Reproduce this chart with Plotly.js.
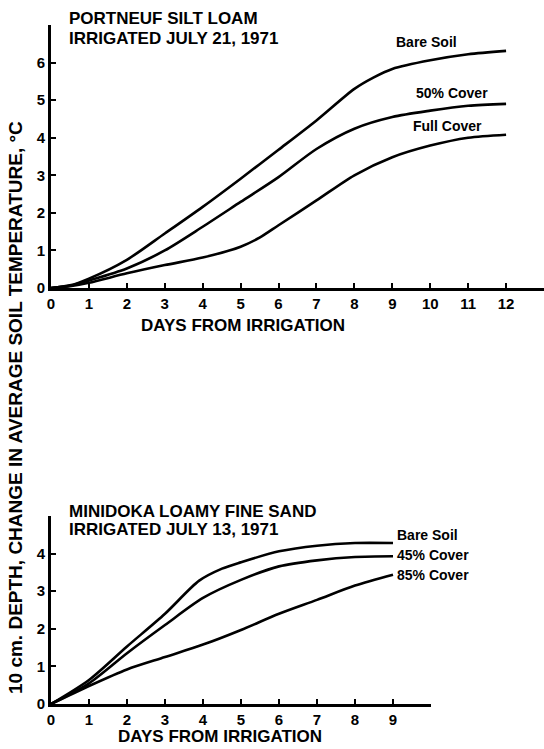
<!DOCTYPE html>
<html><head><meta charset="utf-8">
<script src="https://cdn.plot.ly/plotly-3.0.1.min.js"></script>
<style>html,body{margin:0;padding:0;background:#fff}</style>
</head><body><div id="chart" style="width:544px;height:749px"></div>
<script>
// ---- Top panel: Portneuf silt loam, irrigated July 21, 1971 ----
const topBareDays  = [0, 0.5, 1, 2, 3, 4, 5, 6, 7, 8, 8.5, 9, 10, 11, 12];
const topBareTemp  = [0, 0.07, 0.25, 0.75, 1.45, 2.16, 2.91, 3.68, 4.46, 5.3, 5.6, 5.83, 6.06, 6.22, 6.31];
const topHalfDays  = [0, 0.5, 1, 2, 3, 4, 5, 6, 7, 8, 9, 10, 11, 12];
const topHalfTemp  = [0, 0.06, 0.2, 0.52, 1.0, 1.63, 2.29, 2.95, 3.7, 4.24, 4.55, 4.72, 4.85, 4.9];
const topFullDays  = [0, 0.5, 1, 2, 3, 4, 5, 5.5, 6, 7, 8, 9, 10, 11, 12];
const topFullTemp  = [0, 0.05, 0.14, 0.39, 0.61, 0.81, 1.1, 1.34, 1.67, 2.33, 3.0, 3.48, 3.79, 4.0, 4.08];
const topXTicks = [0,1,2,3,4,5,6,7,8,9,10,11,12];
const topYTicks = [0,1,2,3,4,5,6];
const topLabels = ["Bare Soil", "50% Cover", "Full Cover"];

// ---- Bottom panel: Minidoka loamy fine sand, irrigated July 13, 1971 ----
const botBareDays = [0, 1, 2, 3, 3.9, 4.5, 5, 6, 7, 8, 9];
const botBareTemp = [0, 0.64, 1.53, 2.4, 3.28, 3.6, 3.77, 4.06, 4.21, 4.28, 4.28];
const bot45Days   = [0, 1, 2, 3, 4, 5, 6, 7, 8, 9];
const bot45Temp   = [0, 0.55, 1.35, 2.1, 2.82, 3.3, 3.66, 3.82, 3.91, 3.93];
const bot85Days   = [0, 1, 2, 3, 4, 5, 6, 7, 8, 9];
const bot85Temp   = [0, 0.48, 0.92, 1.25, 1.58, 1.97, 2.4, 2.77, 3.15, 3.44];
const botXTicks = [0,1,2,3,4,5,6,7,8,9];
const botYTicks = [0,1,2,3,4];
const botLabels = ["Bare Soil", "45% Cover", "85% Cover"];

const topTitle = ["PORTNEUF SILT LOAM", "IRRIGATED JULY 21, 1971"];
const botTitle = ["MINIDOKA LOAMY FINE SAND", "IRRIGATED JULY 13, 1971"];
const xTitle = "DAYS FROM IRRIGATION";
const yTitle = "10 cm. DEPTH, CHANGE IN AVERAGE SOIL TEMPERATURE, °C";

const FONT = "Liberation Sans, Arial, sans-serif";
const W = 544, H = 749;
const px = v => v / W;
const py = v => (H - v) / H;

function line(x, y, xa, ya) {
  return {x, y, xaxis: xa, yaxis: ya, type: 'scatter', mode: 'lines',
    line: {color: '#000', width: 2.6, shape: 'spline', smoothing: 0.8},
    hoverinfo: 'skip', showlegend: false};
}

const traces = [
  line(topBareDays, topBareTemp, 'x', 'y'),
  line(topHalfDays, topHalfTemp, 'x', 'y'),
  line(topFullDays, topFullTemp, 'x', 'y'),
  line(botBareDays, botBareTemp, 'x2', 'y2'),
  line(bot45Days, bot45Temp, 'x2', 'y2'),
  line(bot85Days, bot85Temp, 'x2', 'y2')
];

const axBase = {
  showgrid: false, zeroline: false, showline: true, linecolor: '#000', linewidth: 3,
  ticks: 'inside', ticklen: 5, tickwidth: 2, tickcolor: '#000',
  tickfont: {family: FONT, size: 15, color: '#000', weight: 'bold'},
  automargin: false, fixedrange: true
};

function ann(text, x, y, xref, yref, opts) {
  return Object.assign({text, x, y, xref, yref, showarrow: false,
    font: {family: FONT, size: 14, color: '#000', weight: 'bold'}}, opts || {});
}

const titleFont = {family: FONT, size: 17, color: '#000', weight: 'bold'};
const yTitleFont = {family: FONT, size: 19, color: '#000', weight: 'bold'};
const annotations = [
  ann(topTitle[0], px(67), py(19), 'paper', 'paper', {xanchor: 'left', yanchor: 'middle', font: titleFont}),
  ann(topTitle[1], px(67), py(38.5), 'paper', 'paper', {xanchor: 'left', yanchor: 'middle', font: titleFont}),
  ann(botTitle[0], px(67), py(511.5), 'paper', 'paper', {xanchor: 'left', yanchor: 'middle', font: titleFont}),
  ann(botTitle[1], px(67), py(529.5), 'paper', 'paper', {xanchor: 'left', yanchor: 'middle', font: titleFont}),
  ann(xTitle, px(243), py(325), 'paper', 'paper', {xanchor: 'center', yanchor: 'middle', font: titleFont}),
  ann(xTitle, px(220), py(748), 'paper', 'paper', {xanchor: 'center', yanchor: 'bottom', font: titleFont}),
  ann(yTitle, px(15), py(408), 'paper', 'paper', {xanchor: 'center', yanchor: 'middle', textangle: -90, font: yTitleFont}),
  ann(topLabels[0], 9.9, 6.55, 'x', 'y', {xanchor: 'center', yanchor: 'middle'}),
  ann(topLabels[1], 10.57, 5.19, 'x', 'y', {xanchor: 'center', yanchor: 'middle'}),
  ann(topLabels[2], 10.46, 4.31, 'x', 'y', {xanchor: 'center', yanchor: 'middle'}),
  ann(botLabels[0], 9.05, 4.49, 'x2', 'y2', {xanchor: 'left', yanchor: 'middle'}),
  ann(botLabels[1], 9.05, 3.96, 'x2', 'y2', {xanchor: 'left', yanchor: 'middle'}),
  ann(botLabels[2], 9.05, 3.43, 'x2', 'y2', {xanchor: 'left', yanchor: 'middle'})
];

const layout = {
  width: W, height: H,
  margin: {l: 0, r: 0, t: 0, b: 0, pad: 0},
  paper_bgcolor: '#fff', plot_bgcolor: '#fff',
  showlegend: false,
  xaxis: Object.assign({}, axBase, {domain: [px(51), 1], range: [0, 13], tickvals: topXTicks, ticktext: topXTicks.map(String), anchor: 'y'}),
  yaxis: Object.assign({}, axBase, {domain: [py(288), py(25)], range: [0, 7], tickvals: topYTicks, ticktext: topYTicks.map(String), anchor: 'x'}),
  xaxis2: Object.assign({}, axBase, {domain: [px(51), px(431)], range: [0, 10], tickvals: botXTicks, ticktext: botXTicks.map(String), anchor: 'y2'}),
  yaxis2: Object.assign({}, axBase, {domain: [py(704), py(516)], range: [0, 5], tickvals: botYTicks, ticktext: botYTicks.map(String), anchor: 'x2'}),
  annotations
};

Plotly.newPlot('chart', traces, layout, {displayModeBar: false, staticPlot: true});
</script>
</body></html>
